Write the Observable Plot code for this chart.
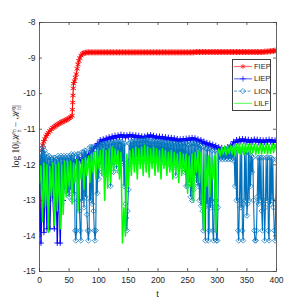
<!DOCTYPE html>
<html><head><meta charset="utf-8">
<script src="https://cdn.jsdelivr.net/npm/d3@7"></script>
<script src="https://cdn.jsdelivr.net/npm/@observablehq/plot@0.6"></script>
<style>
body{margin:0;background:#fff}
#wrap{position:relative;width:305px;height:305px}
#legend{position:absolute;background:#fff;border:1px solid #404040;box-sizing:border-box}
</style>
</head><body><div id="wrap"></div>
<script>
const seriesNames = ["FIEP", "LIEP", "LICN", "LILF"];
const seriesColors = ["#ff0000", "#0000ff", "#0072bd", "#00ff00"];
const xTicks = [0, 50, 100, 150, 200, 250, 300, 350, 400];
const yTicks = [-15, -14, -13, -12, -11, -10, -9, -8];
const tStep = 2.5;      // sampling of LIEP, LILF and the FIEP tail
const licnStep = 1.25;  // LICN sampled twice as finely

const fiepHeadT = [0,0.5,1,1.5,2.5,4,5.5,7,9,11,13,15,17.5,20,22.5,25,27.5,30,32.5,35,37.5,40,42.5,45,47.5,50,52.5,55,55.5,56,56.5,57,57.5,59,60.5,62,63.5,65,66.5,68,70,72.5,75,77.5];
const fiepHeadV = [-13.8,-12.9,-13.4,-12.4,-11.9,-11.6,-11.45,-11.35,-11.28,-11.2,-11.15,-11.1,-11.05,-11.0,-10.96,-10.93,-10.9,-10.87,-10.85,-10.82,-10.8,-10.78,-10.76,-10.74,-10.72,-10.69,-10.66,-10.62,-10.45,-10.25,-10.05,-9.85,-9.72,-9.65,-9.55,-9.45,-9.3,-9.18,-9.08,-9.0,-8.93,-8.88,-8.86,-8.85];
const fiepTailStart = 80;
const fiepTailV = [
-8.84,-8.84,-8.84,-8.84,-8.84,-8.84,-8.84,-8.84,-8.84,-8.84,
-8.84,-8.84,-8.84,-8.84,-8.84,-8.84,-8.84,-8.84,-8.84,-8.84,
-8.84,-8.84,-8.84,-8.84,-8.84,-8.84,-8.84,-8.84,-8.84,-8.84,
-8.84,-8.84,-8.84,-8.84,-8.84,-8.84,-8.84,-8.84,-8.84,-8.84,
-8.84,-8.84,-8.84,-8.84,-8.84,-8.84,-8.84,-8.84,-8.84,-8.84,
-8.84,-8.84,-8.84,-8.84,-8.84,-8.84,-8.84,-8.84,-8.84,-8.84,
-8.84,-8.84,-8.84,-8.84,-8.84,-8.84,-8.84,-8.84,-8.84,-8.84,
-8.84,-8.84,-8.84,
-8.83,-8.83,-8.83,-8.83,-8.83,-8.83,-8.83,-8.83,-8.83,-8.83,
-8.83,-8.83,-8.83,-8.83,-8.83,-8.83,-8.83,-8.83,-8.83,-8.83,
-8.83,-8.83,-8.83,-8.83,-8.83,-8.83,-8.83,-8.83,-8.83,-8.83,
-8.83,-8.83,-8.83,-8.83,-8.83,-8.83,-8.83,-8.83,-8.83,-8.83,
-8.83,-8.83,-8.83,-8.83,-8.83,
-8.83,-8.83,-8.82,-8.82,-8.82,-8.81,-8.81,-8.8,-8.8,-8.79,-8.79];

const liepV = [
-12.6,-14.2,-12.1,-13.9,-12.0,-13.8,-12.2,-13.8,-12.05,-12.9,
-13.8,-12.2,-14.2,-12.4,-14.2,-12.3,-13.0,-12.1,-12.3,-11.95,
-12.05,-11.9,-12.0,-11.9,-11.95,-11.85,-11.95,-11.85,-11.9,-11.8,
-11.85,-11.75,-11.8,-11.7,-11.72,-11.6,-11.62,-11.5,-11.48,-11.4,
-11.42,-11.3,-11.36,-11.28,-11.33,-11.25,-11.3,-11.22,-11.28,-11.2,
-11.26,-11.18,-11.24,-11.17,-11.23,-11.15,-11.22,-11.16,-11.24,-11.17,
-11.22,-11.15,-11.21,-11.16,-11.23,-11.17,-11.24,-11.18,-11.25,-11.2,
-11.26,-11.2,-11.24,-11.17,-11.22,-11.16,-11.22,-11.18,-11.25,-11.2,
-11.26,-11.2,-11.27,-11.21,-11.28,-11.22,-11.3,-11.23,-11.3,-11.24,
-11.32,-11.25,-11.33,-11.27,-11.35,-11.28,-11.34,-11.27,-11.33,-11.26,
-11.32,-11.25,-11.31,-11.24,-11.3,-11.25,-11.33,-11.28,-11.36,-11.3,
-11.4,-11.34,-11.44,-11.38,-11.47,-11.4,-11.5,-11.43,-11.53,-11.46,
-11.56,-11.5,-11.6,-11.52,-11.62,-11.54,-11.6,-11.5,-11.55,-11.45,
-11.45,-11.35,-11.38,-11.3,-11.36,-11.28,-11.35,-11.27,-11.34,-11.28,
-11.36,-11.29,-11.37,-11.3,-11.36,-11.28,-11.35,-11.29,-11.37,-11.3,
-11.38,-11.31,-11.37,-11.3,-11.36,-11.29,-11.35,-11.3,-11.37,-11.31,
-11.36];

// LICN, one row per 10 units of t
const licnV = [
-12.3,-11.7,-12.9,-11.55,-12.6,-11.5,-13.0,-11.6,
-12.7,-11.7,-12.9,-11.8,-13.1,-11.75,-12.6,-11.8,
-12.8,-11.85,-12.5,-11.8,-13.0,-11.8,-12.7,-11.85,
-12.9,-11.75,-12.6,-11.8,-12.8,-11.75,-13.1,-11.8,
-12.5,-11.75,-12.7,-11.8,-12.6,-11.75,-12.8,-11.8,
-12.9,-11.75,-12.7,-11.7,-13.0,-11.75,-12.8,-11.7,
-13.85,-14.13,-13.85,-11.7,-13.0,-11.7,-13.3,-13.85,
-14.13,-11.65,-13.0,-11.65,-13.2,-11.6,-12.9,-11.6,
-13.4,-13.85,-14.13,-13.85,-11.5,-13.0,-11.5,-13.1,
-11.5,-13.3,-13.85,-14.13,-13.85,-11.5,-12.8,-11.45,
-12.4,-11.45,-12.0,-11.42,-12.2,-11.42,-11.9,-11.4,
-12.3,-11.4,-12.0,-11.4,-12.1,-11.4,-11.9,-11.38,
-12.6,-11.38,-12.0,-11.37,-12.2,-11.37,-11.9,-11.36,
-12.1,-11.36,-11.9,-11.35,-12.2,-11.35,-12.0,-11.36,
-11.9,-11.4,-12.6,-11.4,-13.1,-13.5,-13.85,-13.3,
-12.7,-11.4,-11.9,-11.35,-11.85,-11.35,-11.9,-11.34,
-11.85,-11.33,-11.9,-11.33,-11.8,-11.34,-11.9,-11.33,
-11.85,-11.32,-11.9,-11.32,-11.8,-11.31,-11.9,-11.3,
-11.85,-11.3,-11.9,-11.32,-11.85,-11.33,-11.8,-11.35,
-11.9,-11.35,-11.85,-11.34,-11.9,-11.35,-11.85,-11.34,
-11.9,-11.35,-11.85,-11.36,-11.9,-11.36,-11.85,-11.37,
-11.95,-11.37,-11.9,-11.38,-11.95,-11.38,-11.9,-11.39,
-12.0,-11.4,-11.95,-11.4,-12.1,-11.4,-11.95,-11.41,
-12.3,-11.42,-12.0,-11.42,-11.95,-11.42,-12.0,-11.42,
-12.0,-11.4,-12.1,-11.4,-12.2,-11.4,-12.6,-11.42,
-12.6,-11.45,-12.5,-11.42,-12.9,-11.4,-13.0,-11.4,
-12.7,-11.4,-12.3,-11.42,-12.5,-11.42,-12.6,-11.43,
-13.0,-11.45,-13.15,-11.5,-13.3,-13.85,-11.5,-13.2,
-14.13,-11.55,-13.1,-11.55,-14.13,-13.85,-11.55,-13.2,
-13.0,-11.6,-13.85,-14.13,-13.2,-11.6,-13.0,-14.13,
-14.13,-13.2,-11.65,-11.85,-11.65,-11.8,-11.65,-11.85,
-11.65,-11.8,-11.65,-11.85,-11.62,-11.82,-11.62,-11.85,
-11.6,-11.82,-11.6,-11.85,-11.58,-11.8,-11.55,-11.9,
-12.6,-11.55,-13.0,-11.55,-13.85,-14.13,-13.0,-11.6,
-13.2,-11.6,-13.85,-14.13,-13.1,-11.6,-13.0,-11.62,
-13.43,-13.1,-11.65,-13.0,-11.7,-12.6,-11.75,-12.2,
-11.8,-13.0,-13.85,-14.13,-14.13,-13.85,-12.9,-11.8,
-13.1,-11.8,-13.0,-11.8,-13.3,-13.85,-11.8,-13.0,
-14.13,-13.2,-11.8,-13.0,-11.8,-13.85,-14.13,-11.8,
-13.1,-11.8,-13.0,-11.85,-13.2,-13.85,-14.13,-13.0,
-11.85];

const lilfV = [
-12.5,-12.0,-13.6,-11.95,-13.2,-12.0,-13.9,-12.05,-12.9,-11.95,
-13.7,-12.0,-13.3,-11.95,-13.8,-12.0,-13.4,-11.9,-12.9,-11.9,
-12.6,-11.9,-13.1,-11.95,-12.5,-11.85,-13.3,-11.9,-12.4,-11.85,
-12.7,-11.8,-12.3,-11.75,-12.5,-11.7,-12.2,-11.65,-12.4,-11.6,
-12.1,-11.6,-12.3,-11.55,-13.0,-11.6,-12.65,-11.55,-12.5,-11.5,
-12.2,-11.55,-12.0,-11.6,-12.4,-11.65,-14.2,-13.2,-14.0,-11.7,
-12.6,-11.6,-12.3,-11.55,-12.2,-11.5,-12.4,-11.55,-12.1,-11.5,
-12.3,-11.45,-12.2,-11.5,-12.35,-11.55,-12.1,-11.5,-12.3,-11.55,
-12.2,-11.6,-12.4,-11.55,-12.1,-11.6,-12.3,-11.65,-12.2,-11.6,
-12.4,-11.65,-12.2,-11.7,-12.5,-11.65,-12.3,-11.7,-12.2,-11.7,
-12.8,-11.75,-12.6,-11.7,-13.05,-11.65,-12.2,-11.6,-12.5,-11.65,
-13.0,-13.85,-11.7,-12.6,-11.75,-12.9,-11.8,-12.4,-11.75,-13.9,
-11.7,-11.55,-11.75,-11.5,-11.7,-11.48,-11.72,-11.47,-11.68,-11.45,
-11.7,-11.45,-11.75,-11.42,-11.68,-11.4,-11.7,-11.42,-11.72,-11.4,
-11.65,-11.42,-11.7,-11.4,-11.66,-11.42,-11.72,-11.43,-11.68,-11.4,
-11.7,-11.42,-11.67,-11.4,-11.7,-11.43,-11.68,-11.4,-11.66,-11.42,
-11.6];

const fiep = fiepHeadT.map((t, i) => ({t, v: fiepHeadV[i]}))
  .concat(fiepTailV.map((v, i) => ({t: fiepTailStart + i * tStep, v})));
const uniform = (vals, step) => vals.map((v, i) => ({t: i * step, v}));
const liep = uniform(liepV, tStep), licn = uniform(licnV, licnStep), lilf = uniform(lilfV, tStep);

const W = 305, H = 305, mL = 39, mR = 29, mT = 22, mB = 34;
const fw = W - mL - mR, fh = H - mT - mB, tk = 3;
const axisColor = "#404040";

const plot = Plot.plot({
  width: W, height: H, marginLeft: mL, marginRight: mR, marginTop: mT, marginBottom: mB,
  x: {domain: [0, 400]},
  y: {domain: [-15, -8]},
  style: {fontFamily: "'Liberation Sans', Arial, sans-serif", fontSize: "8.5px", color: "#262626", background: "transparent", overflow: "visible"},
  marks: [
    Plot.line(fiep, {x: "t", y: "v", stroke: seriesColors[0], strokeWidth: 1, clip: true}),
    Plot.dot(fiep, {x: "t", y: "v", symbol: "asterisk", r: 2.8, stroke: seriesColors[0], strokeWidth: 0.9, clip: true}),
    Plot.line(liep, {x: "t", y: "v", stroke: seriesColors[1], strokeWidth: 1.3, clip: true}),
    Plot.dot(liep, {x: "t", y: "v", symbol: "plus", r: 2, stroke: seriesColors[1], strokeWidth: 0.9, clip: true}),
    Plot.line(licn, {x: "t", y: "v", stroke: seriesColors[2], strokeWidth: 1.1, clip: true}),
    Plot.dot(licn, {x: "t", y: "v", symbol: "diamond2", r: 2.4, stroke: seriesColors[2], fill: "none", strokeWidth: 0.7, clip: true}),
    Plot.line(lilf, {x: "t", y: "v", stroke: seriesColors[3], strokeWidth: 1.5, clip: true}),
    Plot.frame({stroke: axisColor, strokeWidth: 0.8}),
    Plot.tickY(yTicks, {y: d => d, insetRight: fw - tk, stroke: axisColor, strokeWidth: 0.8}),
    Plot.tickY(yTicks, {y: d => d, insetLeft: fw - tk, stroke: axisColor, strokeWidth: 0.8}),
    Plot.tickX(xTicks, {x: d => d, insetTop: fh - tk, stroke: axisColor, strokeWidth: 0.8}),
    Plot.tickX(xTicks, {x: d => d, insetBottom: fh - tk, stroke: axisColor, strokeWidth: 0.8}),
    Plot.axisY({ticks: yTicks, tickSize: 0, tickPadding: 4, tickFormat: d => String(d), label: null}),
    Plot.axisX({ticks: xTicks, tickSize: 0, tickPadding: 5, tickFormat: d => String(d), label: null})
  ]
});

const wrap = document.getElementById("wrap");
wrap.appendChild(plot);

const xs = plot.scale("x"), ys = plot.scale("y");
const svg = d3.select(plot);
svg.append("text")
  .attr("x", (xs.apply(0) + xs.apply(400)) / 2)
  .attr("y", H - 8)
  .attr("text-anchor", "middle")
  .attr("font-family", "'Liberation Sans', Arial, sans-serif")
  .attr("font-size", 9).attr("fill", "#262626").text("t");
const yl = svg.append("text")
  .attr("transform", `translate(19,${(ys.apply(-8) + ys.apply(-15)) / 2 - 10}) rotate(-90)`)
  .attr("text-anchor", "middle")
  .attr("font-family", "'Liberation Serif', 'DejaVu Serif', serif")
  .attr("font-size", 9.5).attr("fill", "#262626");
yl.append("tspan").text("log 10|\u210B");
yl.append("tspan").attr("font-size", 5.5).attr("dy", -3.5).text("n");
yl.append("tspan").attr("font-size", 5.5).attr("dx", -3).attr("dy", 5.5).text("h");
yl.append("tspan").attr("dy", -2).text(" \u2212 \u210B");
yl.append("tspan").attr("font-size", 5.5).attr("dy", -3.5).text("0");
yl.append("tspan").attr("font-size", 5.5).attr("dx", -3).attr("dy", 5.5).text("h");
yl.append("tspan").attr("dy", -2).text("|");

const lg = document.createElement("div");
lg.id = "legend";
Object.assign(lg.style, {left: "232px", top: "59px", width: "39px", height: "52px"});
wrap.appendChild(lg);
const lsvg = d3.select(lg).append("svg").attr("width", 37).attr("height", 50);
const legendMarkers = ["asterisk", "plus", "diamond2", null];
const legendDash = [null, null, "3,1.5", null];
seriesNames.forEach((name, i) => {
  const cy = 6.5 + i * 12.3;
  const g = lsvg.append("g");
  g.append("line").attr("x1", 1).attr("x2", 19).attr("y1", cy).attr("y2", cy)
    .attr("stroke", seriesColors[i]).attr("stroke-opacity", 0.55).attr("stroke-width", 1.2)
    .attr("stroke-dasharray", legendDash[i]);
  if (legendMarkers[i]) {
    const sym = {asterisk: d3.symbolAsterisk, plus: d3.symbolPlus, diamond2: d3.symbolDiamond2}[legendMarkers[i]];
    g.append("path").attr("transform", `translate(10,${cy})`)
      .attr("d", d3.symbol(sym, legendMarkers[i] === "plus" ? 12 : 18)())
      .attr("fill", "none").attr("stroke", seriesColors[i]).attr("stroke-opacity", 0.7).attr("stroke-width", 0.9);
  }
  g.append("text").attr("x", 21).attr("y", cy).attr("dy", "0.35em")
    .attr("font-family", "'Liberation Sans', Arial, sans-serif").attr("font-size", 7.5)
    .attr("fill", "#262626").text(name);
});
</script>
</body></html>
